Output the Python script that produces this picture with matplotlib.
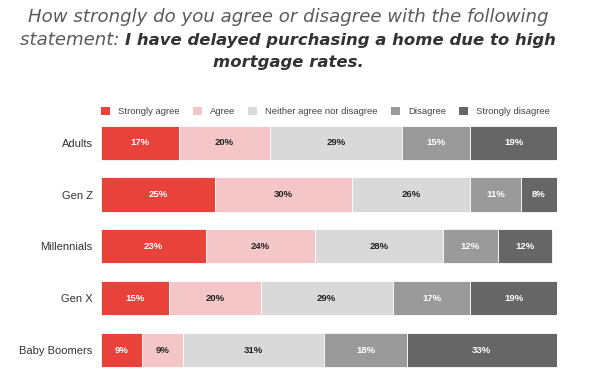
import matplotlib
matplotlib.use("Agg")
import matplotlib.pyplot as plt
from matplotlib.patches import Patch
import numpy as np

categories = ["Adults", "Gen Z", "Millennials", "Gen X", "Baby Boomers"]
series_names = ["Strongly agree", "Agree", "Neither agree nor disagree", "Disagree", "Strongly disagree"]
strongly_agree = [17, 25, 23, 15, 9]
agree = [20, 30, 24, 20, 9]
neither = [29, 26, 28, 29, 31]
disagree = [15, 11, 12, 17, 18]
strongly_disagree = [19, 8, 12, 19, 33]

colors = ["#E8423A", "#F4C6C8", "#D9D9D9", "#9A9A9A", "#666666"]
text_colors = ["white", "#222222", "#222222", "white", "white"]

fig = plt.figure(figsize=(6.10, 3.92), dpi=100)
ax = fig.add_axes([0.1656, 0.041, 0.7475, 0.661])

data = [strongly_agree, agree, neither, disagree, strongly_disagree]
y = np.arange(len(categories))
left = np.zeros(len(categories))
for vals, c, tc in zip(data, colors, text_colors):
    vals = np.array(vals, dtype=float)
    ax.barh(y, vals, left=left, color=c, height=0.66, edgecolor="white", linewidth=0.6)
    for yi, (l, v) in enumerate(zip(left, vals)):
        ax.text(l + v / 2, yi, f"{int(v)}%", ha="center", va="center",
                fontsize=6.8, fontweight="bold", color=tc, family="Liberation Sans")
    left += vals

ax.set_xlim(0, 100)
ax.set_ylim(4.5, -0.5)
ax.set_yticks(y)
ax.set_yticklabels(categories, fontsize=8, color="#333333", family="Liberation Sans")
ax.tick_params(axis="y", length=0, pad=6)
ax.set_xticks([])
for s in ax.spines.values():
    s.set_visible(False)

handles = [Patch(facecolor=c, edgecolor="none") for c in colors]
leg = fig.legend(handles, series_names, loc="center", bbox_to_anchor=(0.534, 0.716), ncol=5,
                 frameon=False, handlelength=0.95, handleheight=0.95,
                 columnspacing=1.4, handletextpad=0.85, borderpad=0,
                 prop={"family": "Liberation Sans", "size": 6.8})
for t in leg.get_texts():
    t.set_color("#444444")

# Title
title_font = "DejaVu Sans"
line1 = "How strongly do you agree or disagree with the following"
lead2 = "statement: "
bold2 = "I have delayed purchasing a home due to high"
line3 = "mortgage rates."

fig.canvas.draw()
r = fig.canvas.get_renderer()

def width_px(s, size, weight="normal"):
    t = fig.text(0, 0, s, fontsize=size, style="italic", fontweight=weight, family=title_font)
    w = t.get_window_extent(r).width
    t.remove()
    return w

fs = 12 * 520 / width_px(line1, 12)
lead_w = width_px(lead2, fs)
fsb = 12 * (534 - lead_w) / width_px(bold2, 12, "bold")

cx = 288 / 610
fig.text(cx, 1 - 17 / 392, line1, ha="center", va="center", fontsize=fs, style="italic",
         color="#5a5a5a", family=title_font)
fig.text(cx, 1 - 63 / 392, line3, ha="center", va="center", fontsize=fsb, style="italic",
         fontweight="bold", color="#333333", family=title_font)

t1 = fig.text(0, 1 - 40 / 392, lead2, ha="left", va="center", fontsize=fs, style="italic",
              color="#5a5a5a", family=title_font)
t2 = fig.text(0, 1 - 40 / 392, bold2, ha="left", va="center", fontsize=fsb, style="italic",
              fontweight="bold", color="#333333", family=title_font)
w1 = t1.get_window_extent(r).width / fig.bbox.width
w2 = t2.get_window_extent(r).width / fig.bbox.width
start = cx - (w1 + w2) / 2
t1.set_x(start)
t2.set_x(start + w1)

fig.savefig("out.png", dpi=100, facecolor="white")
